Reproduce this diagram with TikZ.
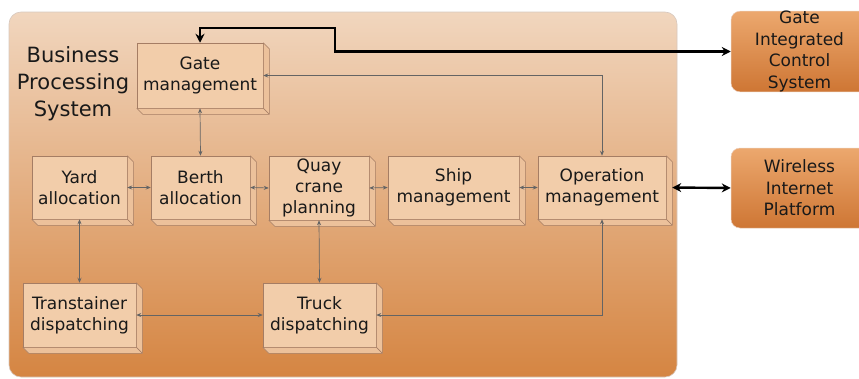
\documentclass[tikz,border=0pt]{standalone}
\usepackage{fontspec}
\setmainfont{DejaVu Sans}
\usetikzlibrary{arrows.meta}
\definecolor{bgtop}{RGB}{241,214,190}
\definecolor{bgbot}{RGB}{213,133,66}
\definecolor{bgedge}{RGB}{215,200,190}
\definecolor{facec}{RGB}{242,205,170}
\definecolor{depthc}{RGB}{236,193,155}
\definecolor{edgec}{RGB}{165,125,100}
\definecolor{txt}{RGB}{25,25,25}
\definecolor{thinc}{RGB}{100,100,100}
\definecolor{extop}{RGB}{236,168,110}
\definecolor{exbot}{RGB}{206,118,52}
\definecolor{exedge}{RGB}{235,205,185}
\tikzset{
  blk/.style={draw=edgec, fill=facec, line width=0.5pt, text=txt, align=center,
    inner sep=0pt, font=\fontsize{17}{21}\selectfont},
  depthface/.style={draw=edgec, fill=depthc, line width=0.5pt, line join=round},
  extbox/.style={draw=exedge, line width=0.5pt, rounded corners=9pt, top color=extop,
    bottom color=exbot, text=txt, align=center, inner sep=0pt,
    minimum width=137pt, font=\fontsize{17}{21.5}\selectfont},
  thinarr/.style={draw=thinc, line width=0.7pt, {Stealth[length=5pt,width=4pt]}-{Stealth[length=5pt,width=4pt]}},
  thickarr/.style={draw=black, line width=2.4pt, {Stealth[length=9pt,width=9pt]}-{Stealth[length=9pt,width=9pt]}},
}
\begin{document}
\begin{tikzpicture}[x=1pt,y=-1pt]
\useasboundingbox (0,0) rectangle (859,378);
% background panel
\path[draw=bgedge, line width=0.6pt, rounded corners=12pt, top color=bgtop, bottom color=bgbot]
  (9,12) rectangle (677,377);
\node[text=txt, align=center, font=\fontsize{21}{27}\selectfont] (title) at (73,84) {Business\\Processing\\System};
% blocks
\node[blk, minimum width=126pt, minimum height=65pt] (gate) at (200,75.5) {Gate\\management};
\node[blk, minimum width=95pt, minimum height=63pt] (yard) at (79.5,187.5) {Yard\\allocation};
\node[blk, minimum width=99pt, minimum height=63pt] (berth) at (200.5,187.5) {Berth\\allocation};
\node[blk, minimum width=100pt, minimum height=64pt] (quay) at (319,188) {Quay\\crane\\planning};
\node[blk, minimum width=131pt, minimum height=63pt] (ship) at (453.5,187.5) {Ship\\management};
\node[blk, minimum width=128pt, minimum height=63pt] (oper) at (602,187.5) {Operation\\management};
\node[blk, minimum width=113pt, minimum height=64pt] (trans) at (79.5,315) {Transtainer\\dispatching};
\node[blk, minimum width=113pt, minimum height=64pt] (truck) at (319.5,315) {Truck\\dispatching};
\foreach \n in {gate,yard,berth,quay,ship,oper,trans,truck}{
  \path[depthface] (\n.north east) -- ++(6,6) -- ([shift={(6,6)}]\n.south east) -- (\n.south east) -- cycle;
  \path[depthface] (\n.south west) -- ++(6,6) -- ([shift={(6,6)}]\n.south east) -- (\n.south east) -- cycle;
}
% external boxes
\node[extbox, minimum height=79pt] (gics) at (799.5,51.5) {Gate\\Integrated\\Control\\System};
\node[extbox, minimum height=80pt] (wire) at (799.5,188) {Wireless\\Internet\\Platform};
% connectors
\coordinate (j1) at (335,28);
\draw[thickarr] (gate.north) |- (j1) |- (gics.west);
\draw[thickarr] ([xshift=6pt]oper.east) -- (wire.west);
\draw[thinarr] (oper.north) |- (gate.east);
\draw[thinarr] (gate.south) -- (berth.north);
\draw[thinarr] (yard.east) -- (berth.west);
\draw[thinarr] (berth.east) -- (quay.west);
\draw[thinarr] (quay.east) -- (ship.west);
\draw[thinarr] (ship.east) -- (oper.west);
\draw[thinarr] (yard.south) -- (trans.north);
\draw[thinarr] (quay.south) -- (truck.north);
\draw[thinarr] (trans.east) -- (truck.west);
\draw[thinarr] (oper.south) |- (truck.east);
\end{tikzpicture}
\end{document}
